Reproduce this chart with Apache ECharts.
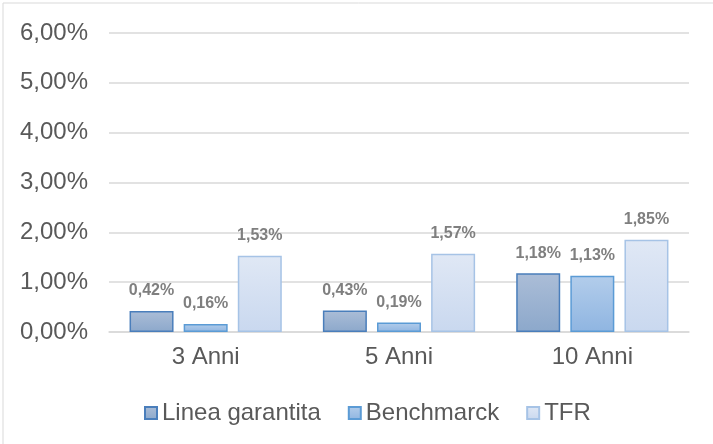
<!DOCTYPE html>
<html>
<head>
<meta charset="utf-8">
<script src="https://cdn.jsdelivr.net/npm/echarts@6/dist/echarts.min.js"></script>
<style>html,body{margin:0;padding:0;background:#fff}#c{width:713px;height:444px}</style>
</head>
<body>
<div id="c"></div>
<script>
const categories = ['3 Anni', '5 Anni', '10 Anni'];
const lineaGarantita = [0.42, 0.43, 1.18];
const benchmarck = [0.16, 0.19, 1.13];
const tfr = [1.53, 1.57, 1.85];
const seriesNames = ['Linea garantita', 'Benchmarck', 'TFR'];

const FONT = '"Liberation Sans", Arial, sans-serif';
const fmt = v => v.toFixed(2).replace('.', ',') + '%';
function grad(a, b) {
  return new echarts.graphic.LinearGradient(0, 0, 0, 1, [{offset: 0, color: a}, {offset: 1, color: b}]);
}
const styles = [
  {color: grad('#abbdd7', '#8ca8cb'), borderColor: '#4a7ebb', borderWidth: 1.5},
  {color: grad('#b3cdeb', '#8fb5e1'), borderColor: '#5b9bd5', borderWidth: 1.5},
  {color: grad('#e0e8f5', '#c9d8ef'), borderColor: '#a6c3e6', borderWidth: 1.5}
];
const datasets = [lineaGarantita, benchmarck, tfr];

const chart = echarts.init(document.getElementById('c'), null, {renderer: 'canvas'});
chart.setOption({
  animation: false,
  backgroundColor: '#fff',
  textStyle: {fontFamily: FONT},
  graphic: [{
    type: 'rect', shape: {x: 3, y: 3, width: 900, height: 900},
    style: {fill: 'none', stroke: '#d9d9d9', lineWidth: 1}, silent: true, z: -1
  }],
  grid: {left: 109, right: 24, top: 33, bottom: 112},
  legend: {
    left: 139, top: 396, itemWidth: 12, itemHeight: 12, itemGap: 27,
    icon: 'rect',
    textStyle: {fontSize: 24, color: '#595959', fontFamily: FONT},
    data: seriesNames
  },
  xAxis: {
    type: 'category', data: categories,
    axisLine: {lineStyle: {color: '#d9d9d9', width: 1.5}},
    axisTick: {show: false},
    axisLabel: {fontSize: 24, color: '#595959', margin: 13, fontFamily: FONT}
  },
  yAxis: {
    type: 'value', min: 0, max: 6, interval: 1,
    axisLine: {show: false}, axisTick: {show: false},
    splitLine: {lineStyle: {color: '#d9d9d9', width: 1.5}},
    axisLabel: {fontSize: 24, color: '#595959', margin: 21, formatter: fmt, fontFamily: FONT}
  },
  series: seriesNames.map((n, i) => ({
    name: n, type: 'bar', data: datasets[i],
    barWidth: 44, barGap: '23%',
    itemStyle: styles[i],
    label: {
      show: true, position: 'top', distance: 12,
      formatter: p => fmt(p.value),
      fontSize: 16, fontWeight: 'bold', color: '#7f7f7f', fontFamily: FONT
    }
  }))
});
</script>
</body>
</html>
